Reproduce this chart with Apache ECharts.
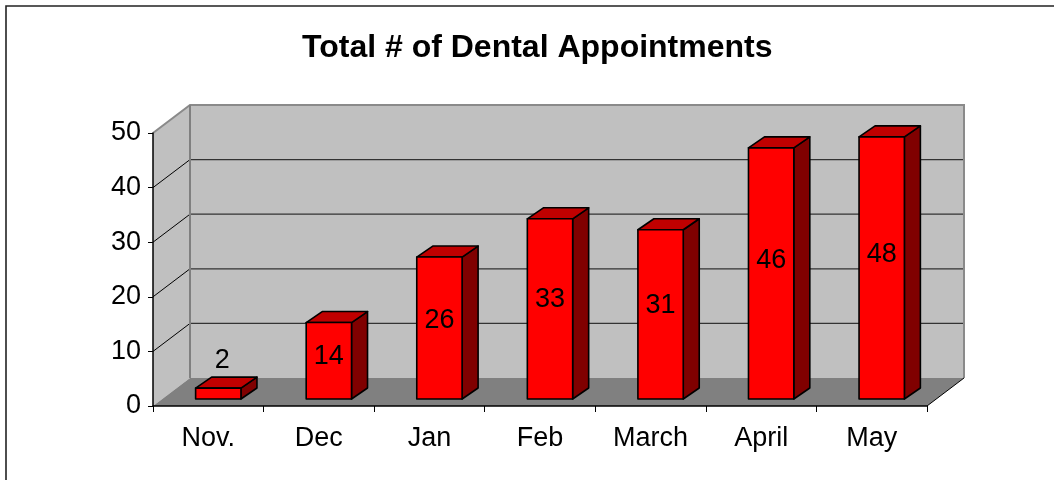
<!DOCTYPE html>
<html>
<head>
<meta charset="utf-8">
<title>Total # of Dental Appointments</title>
<script src="https://cdn.jsdelivr.net/npm/echarts@6/dist/echarts.min.js"></script>
<style>
  html, body { margin: 0; padding: 0; background: #fff; }
  #chart { width: 1054px; height: 480px; }
</style>
</head>
<body>
<div id="chart"></div>
<script>
// data
const months = ['Nov.', 'Dec', 'Jan', 'Feb', 'March', 'April', 'May'];
const appointments = [2, 14, 26, 33, 31, 46, 48];
const gridValues = [10, 20, 30, 40];

const FONT = '"Liberation Sans", Arial, sans-serif';

// 3d look: how far back the wall sits, where the bar sits, how deep it is
const WALL_DX = 37, WALL_DY = -28;
const BAR_DX = 10, BAR_DY = -7;
const DEPTH_DX = 16, DEPTH_DY = -11;

const chart = echarts.init(document.getElementById('chart'));

// gray back wall, side wall, floor and the grid lines on them
function renderWalls(params, api) {
  const cs = params.coordSys;
  const x0 = cs.x, x1 = cs.x + cs.width;
  const yt = cs.y, yb = cs.y + cs.height;
  const kids = [
    { type: 'polygon', shape: { points: [[x0, yt], [x0 + WALL_DX, yt + WALL_DY], [x0 + WALL_DX, yb + WALL_DY], [x0, yb]] },
      style: { fill: '#c0c0c0' } },
    { type: 'rect', shape: { x: x0 + WALL_DX, y: yt + WALL_DY, width: cs.width, height: cs.height },
      style: { fill: '#c0c0c0' } },
    { type: 'polygon', shape: { points: [[x0, yb], [x0 + WALL_DX, yb + WALL_DY], [x1 + WALL_DX, yb + WALL_DY], [x1, yb]] },
      style: { fill: '#808080' } }
  ];
  gridValues.forEach(v => {
    const y = api.coord([0, v])[1];
    kids.push({ type: 'line', shape: { x1: x0 + WALL_DX, y1: y + WALL_DY, x2: x1 + WALL_DX, y2: y + WALL_DY },
      style: { stroke: '#333', lineWidth: 1.2 } });
    kids.push({ type: 'line', shape: { x1: x0, y1: y, x2: x0 + WALL_DX, y2: y + WALL_DY },
      style: { stroke: '#000', lineWidth: 1 } });
  });
  // wall edges
  kids.push({ type: 'polyline', shape: { points: [[x0, yt], [x0 + WALL_DX, yt + WALL_DY], [x1 + WALL_DX, yt + WALL_DY], [x1 + WALL_DX, yb + WALL_DY]] },
    style: { stroke: '#8a8a8a', lineWidth: 2, fill: null } });
  kids.push({ type: 'line', shape: { x1: x0 + WALL_DX, y1: yt + WALL_DY, x2: x0 + WALL_DX, y2: yb + WALL_DY },
    style: { stroke: '#808080', lineWidth: 2 } });
  kids.push({ type: 'line', shape: { x1: x1, y1: yb, x2: x1 + WALL_DX, y2: yb + WALL_DY },
    style: { stroke: '#000', lineWidth: 1 } });
  return { type: 'group', children: kids };
}

// one 3d box per month, with its value written on it
function renderBar(params, api) {
  const i = api.value(0);
  const v = api.value(1);
  const top = api.coord([i, v]);
  const base = api.coord([i, 0]);
  const band = api.size([1, 0])[0];
  const w = band * 0.41;
  const xl = top[0] - w / 2 + BAR_DX;
  const xr = xl + w;
  const yt = top[1] + BAR_DY;
  const yb = base[1] + BAR_DY;
  const edge = { stroke: '#000', lineWidth: 1.6, lineJoin: 'round' };
  const h = yb - yt;
  let lx = (xl + xr) / 2, ly = yb - h * 0.55;
  if (h < 30) {
    lx += 4;
    ly = yt + DEPTH_DY - 17;
  }
  return {
    type: 'group',
    children: [
      { type: 'polygon', shape: { points: [[xr, yt], [xr + DEPTH_DX, yt + DEPTH_DY], [xr + DEPTH_DX, yb + DEPTH_DY], [xr, yb]] },
        style: Object.assign({ fill: '#800000' }, edge) },
      { type: 'polygon', shape: { points: [[xl, yt], [xl + DEPTH_DX, yt + DEPTH_DY], [xr + DEPTH_DX, yt + DEPTH_DY], [xr, yt]] },
        style: Object.assign({ fill: '#c00000' }, edge) },
      { type: 'rect', shape: { x: xl, y: yt, width: w, height: h },
        style: Object.assign({ fill: '#ff0000' }, edge) },
      { type: 'text', style: { text: String(v), x: lx, y: ly, fill: '#000', font: '27px ' + FONT,
        align: 'center', verticalAlign: 'middle' } }
    ]
  };
}

chart.setOption({
  animation: false,
  title: {
    text: 'Total # of Dental Appointments',
    left: 302,
    top: 32,
    padding: 0,
    textStyle: { fontSize: 32, fontWeight: 'bold', color: '#000', fontFamily: FONT }
  },
  graphic: [{
    type: 'rect',
    shape: { x: 6, y: 6, width: 1200, height: 600 },
    style: { fill: null, stroke: '#222', lineWidth: 1.6 },
    silent: true
  }],
  grid: { left: 153, top: 133, width: 774, height: 273 },
  xAxis: {
    type: 'category',
    data: months,
    z: 10,
    axisLine: { lineStyle: { color: '#000', width: 1.5 } },
    axisTick: { show: true, length: 6, interval: 0, lineStyle: { color: '#000' } },
    axisLabel: { fontSize: 27, color: '#000', fontFamily: FONT, margin: 19, interval: 0 }
  },
  yAxis: {
    type: 'value',
    min: 0,
    max: 50,
    interval: 10,
    z: 10,
    axisLine: { show: true, lineStyle: { color: '#000', width: 1.5 } },
    axisTick: { show: true, length: 5, lineStyle: { color: '#000' } },
    axisLabel: { fontSize: 27, color: '#000', fontFamily: FONT, margin: 12 },
    splitLine: { show: false }
  },
  series: [
    { type: 'custom', name: 'walls', z: 1, silent: true, data: [[0, 0]], renderItem: renderWalls },
    { type: 'custom', name: 'Appointments', z: 2,
      data: appointments.map((v, i) => [i, v]), renderItem: renderBar }
  ]
});
</script>
</body>
</html>
